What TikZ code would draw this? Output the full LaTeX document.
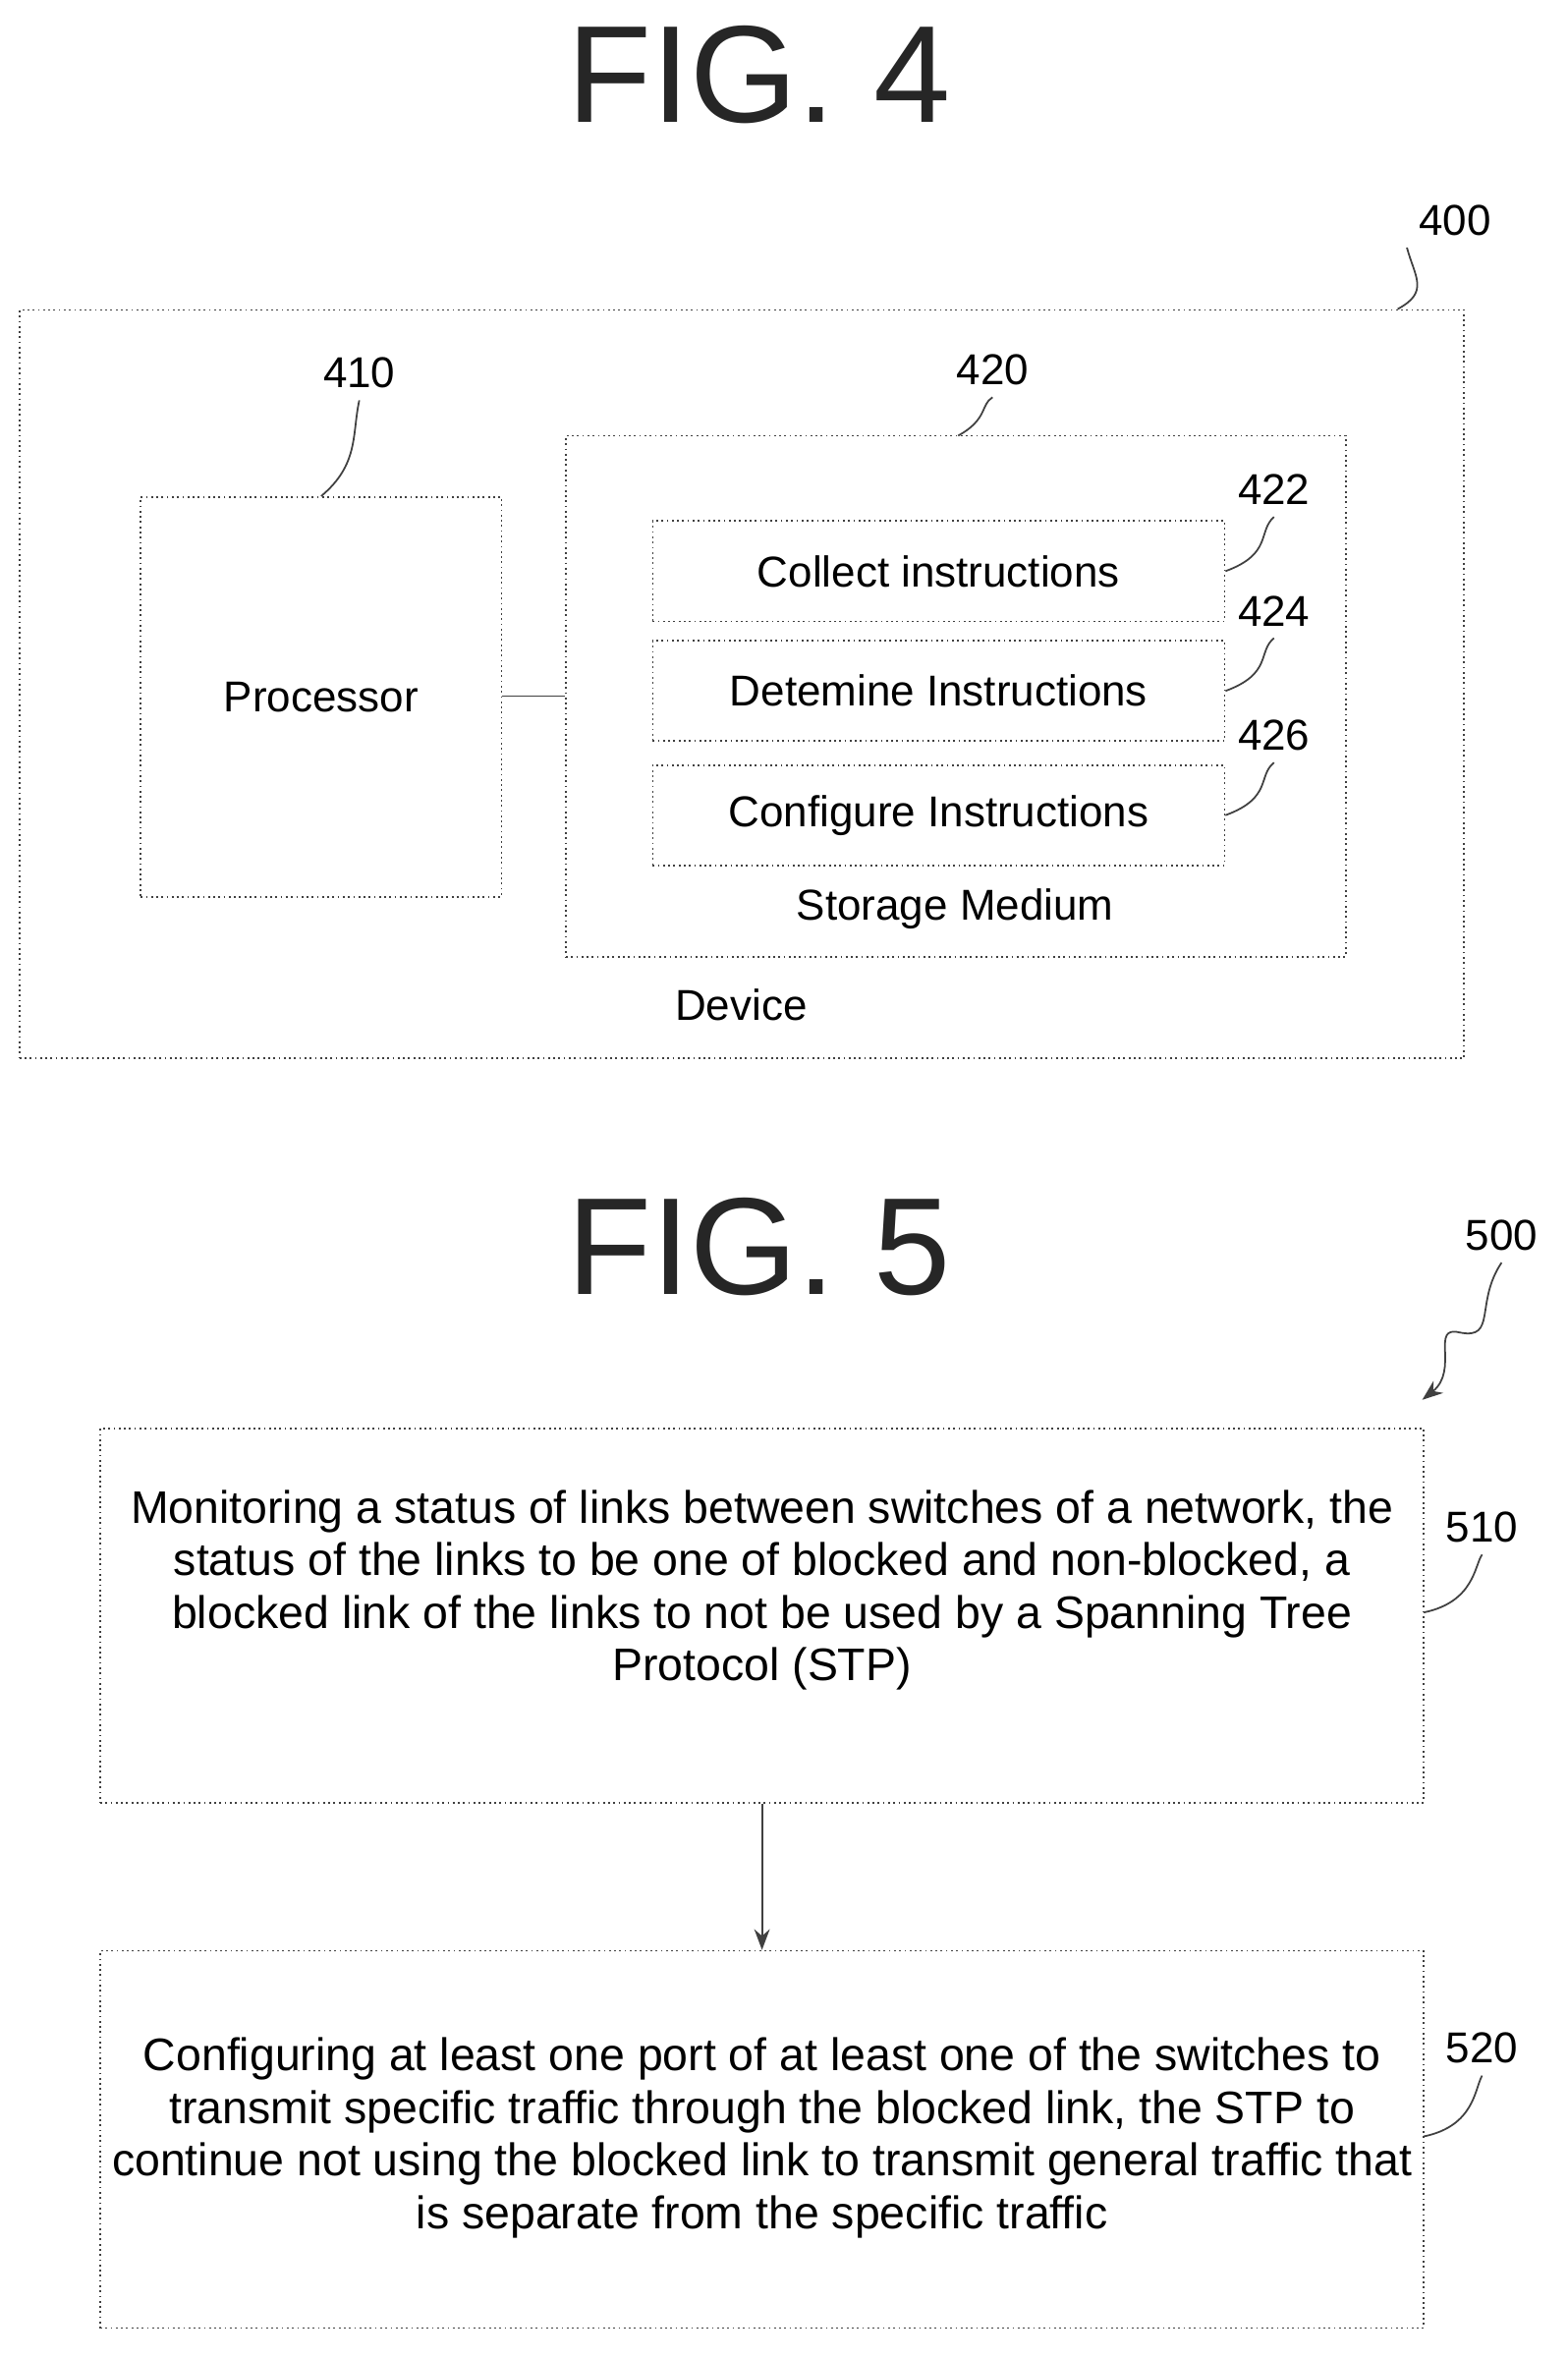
\documentclass[tikz,border=0pt]{standalone}
\usepackage{fontspec}
\setmainfont{Liberation Sans}
\usetikzlibrary{positioning, arrows.meta}

\tikzset{
  box/.style={draw=black!75, line width=0.5pt, densely dotted},
  lbl/.style={font=\fontsize{12.5}{14}\selectfont},
  steptxt/.style={font=\fontsize{13.2}{15.2}\selectfont, align=center},
  fig/.style={font=\fontsize{40}{44}\selectfont, text=black!85},
  lead/.style={draw=black!75, line width=0.5pt}
}

\begin{document}
\begin{tikzpicture}[x=0.015234cm, y=-0.015234cm]
  \useasboundingbox (0,0) rectangle (1047,1575);

  % FIG. 4
  \node[fig] (fig4) at (507,50) {FIG. 4};

  % Device
  \node[box, minimum width=965*0.015234cm, minimum height=500*0.015234cm] (device) at (495.5,457) {};
  \node[lbl] (devicetxt) at (495,671) {Device};
  \node[lbl] (n400) at (972,147) {400};
  \draw[lead] (device.north east) ++(-45,0) coordinate (d400) .. controls (955,195) and (945,185) .. (n400.south west);

  % Processor
  \node[box, minimum width=241*0.015234cm, minimum height=267*0.015234cm] (proc) at (214.5,465.5) {};
  \node[lbl] at (proc.center) {Processor};
  \node[lbl] (n410) at (240,249) {410};
  \draw[lead] (proc.north) .. controls (240,310) and (235,290) .. (n410.south);

  % Storage medium
  \node[box, minimum width=521*0.015234cm, minimum height=348*0.015234cm] (storage) at (638.5,465) {};
  \node[lbl] (storagetxt) at (638,607) {Storage Medium};
  \node[lbl] (n420) at (663,247) {420};
  \draw[lead] (640,291) .. controls (660,280) and (655,270) .. (n420.south);
  \draw[lead] (proc.east |- 0,465) -- (storage.west |- 0,465);

  % Instructions
  \node[box, minimum width=382*0.015234cm, minimum height=67*0.015234cm, label={[lbl]center:Collect instructions}] (collect) at (627,381.5) {};
  \node[box, minimum width=382*0.015234cm, minimum height=67*0.015234cm, label={[lbl]center:Detemine Instructions}] (determine) at (627,461.5) {};
  \node[box, minimum width=382*0.015234cm, minimum height=67*0.015234cm, label={[lbl]center:Configure Instructions}] (configure) at (627,544.5) {};
  \node[lbl] (n422) at (851,327) {422};
  \node[lbl] (n424) at (851,408) {424};
  \node[lbl] (n426) at (851,491) {426};
  \draw[lead] (collect.east) .. controls (850,370) and (840,355) .. (n422.south);
  \draw[lead] (determine.east) .. controls (850,450) and (840,435) .. (n424.south);
  \draw[lead] (configure.east) .. controls (850,533) and (840,518) .. (n426.south);

  % FIG. 5
  \node[fig] (fig5) at (507,833) {FIG. 5};
  \node[lbl] (n500) at (1003,825) {500};
  \coordinate (tip500) at (950,935);
  \draw[lead, -{Stealth[length=6pt]}] (n500.south) .. controls (985,870) and (1000,895) .. (975,890) .. controls (955,885) and (975,915) .. (tip500);

  % Step 510
  \node[box, minimum width=884*0.015234cm, minimum height=250*0.015234cm] (s510) at (509,1079) {};
  \node[steptxt] at (509,1062) {Monitoring a status of links between switches of a network, the\\status of the links to be one of blocked and non-blocked, a\\blocked link of the links to not be used by a Spanning Tree\\Protocol (STP)};
  \node[lbl] (n510) at (990,1020) {510};
  \draw[lead] (951,1077) .. controls (985,1070) and (985,1045) .. (n510.south);

  % Step 520
  \node[box, minimum width=884*0.015234cm, minimum height=252*0.015234cm] (s520) at (509,1429) {};
  \node[steptxt] at (509,1428) {Configuring at least one port of at least one of the switches to\\transmit specific traffic through the blocked link, the STP to\\continue not using the blocked link to transmit general traffic that\\is separate from the specific traffic};
  \node[lbl] (n520) at (990,1368) {520};
  \draw[lead] (951,1427) .. controls (985,1420) and (985,1395) .. (n520.south);

  % arrow
  \draw[lead, -{Stealth[length=6pt]}] (s510.south) -- (s520.north);
\end{tikzpicture}
\end{document}
